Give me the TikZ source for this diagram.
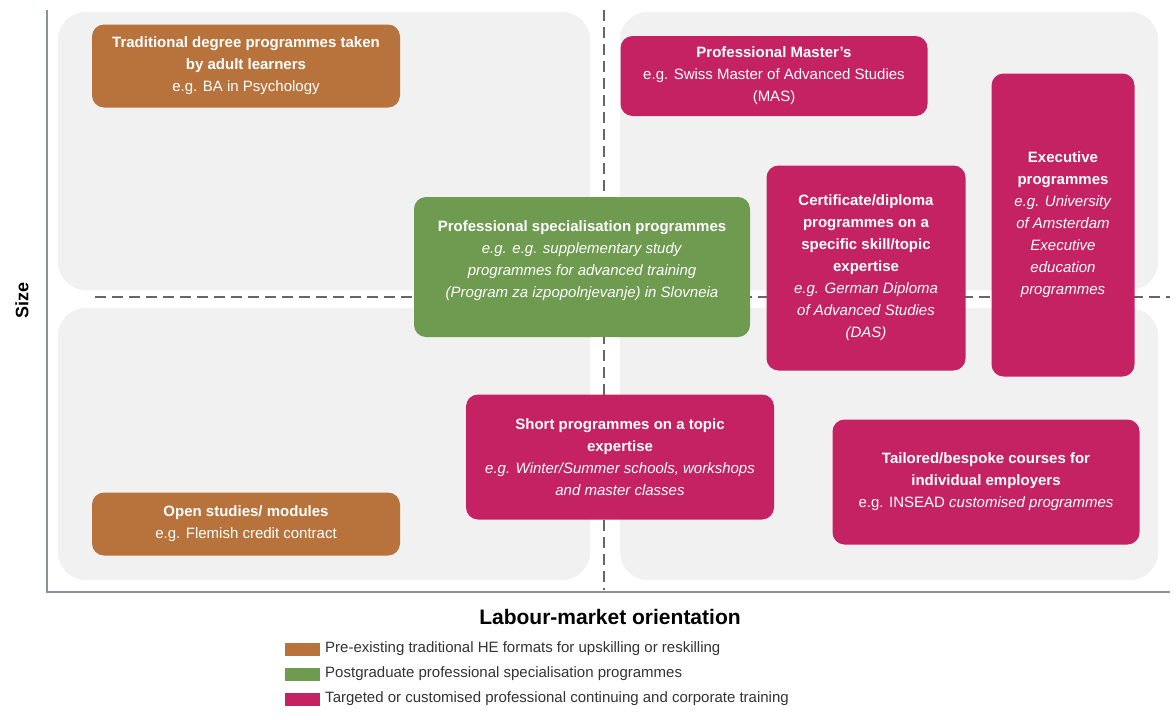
\documentclass[tikz,border=0pt]{standalone}
\usepackage{fontspec}
\setmainfont{Liberation Sans}
\usepackage{xcolor}
\definecolor{tradbrown}{HTML}{B8733C}
\definecolor{postgreen}{HTML}{6E9B50}
\definecolor{targetpink}{HTML}{C42262}
\definecolor{quadgray}{HTML}{F1F1F1}
\definecolor{axisgray}{HTML}{8A9199}

\begin{document}
\begin{tikzpicture}[x=1pt, y=-1pt,
  box/.style={rounded corners=12pt, text=white, align=center, inner sep=2pt,
    font=\fontsize{15}{22}\selectfont},
  trad/.style={box, fill=tradbrown},
  postgrad/.style={box, fill=postgreen},
  target/.style={box, fill=targetpink},
  quad/.style={fill=quadgray, rounded corners=28pt},
  divider/.style={dashed, dash pattern=on 11pt off 6pt, line width=1.3pt, draw=black!60},
  swatch/.style={fill=#1, minimum width=35pt, minimum height=13pt, inner sep=0pt},
  legtext/.style={anchor=west, font=\fontsize{15}{17}\selectfont, text=black!80}
]
\useasboundingbox (0,0) rectangle (1176,720);
\fill[white] (0,0) rectangle (1176,720);

% quadrants
\fill[quad] (58,12) rectangle (590,290);
\fill[quad] (620,12) rectangle (1158,290);
\fill[quad] (58,308) rectangle (590,580);
\fill[quad] (620,308) rectangle (1158,580);

% axes
\draw[axisgray, line width=1.2pt] (47,10) -- (47,592) -- (1170,592);
\draw[divider] (604,10) -- (604,590);
\draw[divider] (95,297) -- (1170,297);

% boxes
\node[trad, minimum width=308pt, minimum height=83pt] (degree) at (246,66) {\textbf{Traditional degree programmes taken}\\\textbf{by adult learners}\\e.g. BA in Psychology};
\node[trad, minimum width=308pt, minimum height=63pt] (open) at (246,524) {\textbf{Open studies/ modules}\\e.g. Flemish credit contract};
\node[target, minimum width=307pt, minimum height=80pt] (master) at (774,76) {\textbf{Professional Master's}\\e.g. Swiss Master of Advanced Studies\\(MAS)};
\node[postgrad, minimum width=336pt, minimum height=140pt] (special) at (582,267) {\textbf{Professional specialisation programmes}\\\textit{e.g. e.g. supplementary study}\\\textit{programmes for advanced training}\\\textit{(Program za izpopolnjevanje) in Slovneia}\\[-6pt]};
\node[target, minimum width=199pt, minimum height=205pt] (diploma) at (866,268) {\textbf{Certificate/diploma}\\\textbf{programmes on a}\\\textbf{specific skill/topic}\\\textbf{expertise}\\\textit{e.g. German Diploma}\\\textit{of Advanced Studies}\\\textit{(DAS)}};
\node[target, minimum width=143pt, minimum height=303pt] (executive) at (1063,225) {\textbf{Executive}\\\textbf{programmes}\\\textit{e.g. University}\\\textit{of Amsterdam}\\\textit{Executive}\\\textit{education}\\\textit{programmes}};
\node[target, minimum width=308pt, minimum height=125pt] (short) at (620,457) {\textbf{Short programmes on a topic}\\\textbf{expertise}\\\textit{e.g. Winter/Summer schools, workshops}\\\textit{and master classes}};
\node[target, minimum width=307pt, minimum height=125pt] (tailored) at (986,482) {\textbf{Tailored/bespoke courses for}\\\textbf{individual employers}\\e.g. INSEAD \textit{customised programmes}};

% axis labels
\node[rotate=90, font=\fontsize{18}{20}\selectfont\bfseries] (size) at (22,300) {Size};
\node[font=\fontsize{21}{24}\selectfont\bfseries] (orient) at (610,617) {Labour-market orientation};

% legend
\node[swatch=tradbrown] (legtrad) at (302,649) {};
\node[swatch=postgreen] (legpost) at (302,674) {};
\node[swatch=targetpink] (legtarget) at (302,699) {};
\node[legtext] at ([xshift=2pt]legtrad.east) {Pre-existing traditional HE formats for upskilling or reskilling};
\node[legtext] at ([xshift=2pt]legpost.east) {Postgraduate professional specialisation programmes};
\node[legtext] at ([xshift=2pt]legtarget.east) {Targeted or customised professional continuing and corporate training};
\end{tikzpicture}
\end{document}
